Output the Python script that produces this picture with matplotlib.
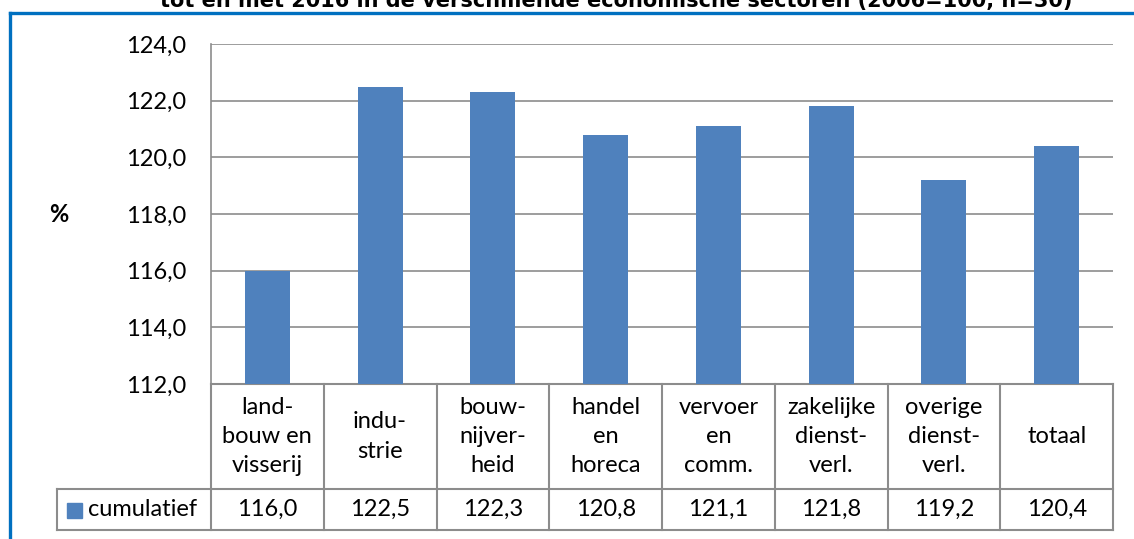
import numpy as np
from matplotlib import pyplot as plt
from matplotlib import transforms
from matplotlib.lines import Line2D
from matplotlib.patches import Rectangle

# chart data
categories = ["land-\nbouw en\nvisserij", "indu-\nstrie", "bouw-\nnijver-\nheid",
              "handel\nen\nhoreca", "vervoer\nen\ncomm.", "zakelijke\ndienst-\nverl.",
              "overige\ndienst-\nverl.", "totaal"]
cumulatief = [116.0, 122.5, 122.3, 120.8, 121.1, 121.8, 119.2, 120.4]
y_ticks = [112, 114, 116, 118, 120, 122, 124]
series_name = "cumulatief"
title = "tot en met 2016 in de verschillende economische sectoren (2006=100, n=30)"

W, H = 1134, 539
bar_color = "#4F81BD"
grid_color = "#8C8C8C"
fs = 17
plt.rcParams['font.family'] = ['Lato', 'DejaVu Sans']

fig = plt.figure(figsize=(W / 100, H / 100), dpi=100)
ax = fig.add_axes([211 / W, 1 - 384 / H, 902 / W, 340 / H])

x = np.arange(len(categories))
ax.bar(x, cumulatief, width=0.4, color=bar_color, zorder=3)
ax.set_xlim(-0.5, len(categories) - 0.5)
ax.set_ylim(y_ticks[0], y_ticks[-1])
ax.set_yticks(y_ticks)
ax.set_yticklabels([f"{v:.1f}".replace(".", ",") for v in y_ticks], fontsize=fs)
ax.tick_params(axis='y', length=0, pad=18)
ax.set_xticks([])
ax.yaxis.grid(True, color=grid_color, lw=1.2, zorder=0)
for s in ["top", "right", "bottom"]:
    ax.spines[s].set_visible(False)
ax.spines["left"].set_color(grid_color)
ax.spines["left"].set_linewidth(1.2)

# "%" label
fig.text(59 / W, 1 - 215 / H, "%", fontsize=fs, weight='bold', ha='center', va='center')

# data table below the axis
trans = transforms.blended_transform_factory(ax.transData, ax.transAxes)
y1 = -105 / 340
y2 = -146 / 340
x_left = -0.5 - 154 / (902 / len(categories))
x_right = len(categories) - 0.5
lkw = dict(color=grid_color, lw=1.5, transform=trans, clip_on=False)
ax.add_line(Line2D([-0.5, x_right], [0, 0], **lkw))
ax.add_line(Line2D([x_left, x_right], [y1, y1], **lkw))
ax.add_line(Line2D([x_left, x_right], [y2, y2], **lkw))
ax.add_line(Line2D([x_left, x_left], [y1, y2], **lkw))
for i in range(len(categories) + 1):
    ax.add_line(Line2D([i - 0.5, i - 0.5], [0, y2], **lkw))

for i, (cat, v) in enumerate(zip(categories, cumulatief)):
    ax.text(i, y1 / 2, cat, transform=trans, ha='center', va='center',
            fontsize=fs, linespacing=1.48)
    ax.text(i, (y1 + y2) / 2, f"{v:.1f}".replace(".", ","), transform=trans,
            ha='center', va='center', fontsize=fs)

# legend key in the table
fig.add_artist(Rectangle((67 / W, 1 - 518 / H), 15 / W, 15 / H,
                         transform=fig.transFigure, color=bar_color))
fig.text(88 / W, 1 - 510 / H, series_name, fontsize=fs, ha='left', va='center')

# title (partly cut off at the top, as in the source)
fig.text(616 / W, 1 - 7 / H, title, fontsize=15, weight='bold',
         family='DejaVu Sans', ha='center', va='baseline')

# blue frame
fig.add_artist(Line2D([9.5 / W, 1], [1 - 13 / H, 1 - 13 / H], color="#0070C0", lw=2.4))
fig.add_artist(Line2D([9.5 / W, 9.5 / W], [1 - 13 / H, 0], color="#0070C0", lw=2.4))

fig.savefig("out.png", dpi=100)
